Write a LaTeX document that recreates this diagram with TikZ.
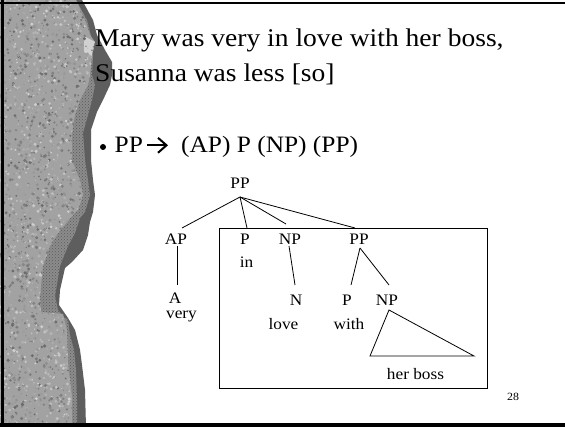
\documentclass[tikz,border=0pt]{standalone}
\usepackage{fontspec}
\setmainfont[FakeStretch=1.08]{Liberation Serif}
\usetikzlibrary{patterns}
\definecolor{stonebase}{HTML}{A2A2A2}
\definecolor{shadowgray}{HTML}{5E5E5E}
\definecolor{dithergray}{HTML}{8C8C8C}
\tikzset{
  treelabel/.style={font=\fontsize{16}{18}\selectfont, anchor=base, inner sep=0pt},
  edge/.style={line width=0.8pt},
  titletext/.style={font=\fontsize{25.5}{30}\selectfont, anchor=base west, inner sep=0pt},
  bullettext/.style={font=\fontsize{23.5}{28}\selectfont, anchor=base west, inner sep=0pt},
}
\begin{document}
\begin{tikzpicture}[x=1pt,y=-1pt]
\useasboundingbox (0,0) rectangle (565,427);
\fill[white] (0,0) rectangle (565,427);
% ---- stone: shadow layer
\fill[shadowgray] (0,0) -- (82,0) -- (93,20) -- (97,35) -- (105,50) -- (112,62) -- (112,75) -- (110,85)
  -- (103,100) -- (97,112) -- (91,130) -- (91,160) -- (93,180) -- (95,195) -- (93,212) -- (90,222)
  -- (88,235) -- (83,250) -- (72,262) -- (65,268) -- (60,290) -- (59,305) -- (68,318) -- (75,330)
  -- (80,350) -- (82,365) -- (85,390) -- (86,427) -- (0,427) -- cycle;
% ---- stone: dithered rim
\fill[dithergray] (0,0) -- (76,0) -- (87,20) -- (92,40) -- (93,55) -- (92,75) -- (95,85) -- (92,100)
  -- (88,115) -- (83,133) -- (85,160) -- (88,180) -- (90,195) -- (85,212) -- (80,218) -- (75,233)
  -- (68,246) -- (60,266) -- (55,296) -- (58,310) -- (63,316) -- (68,320) -- (70,335) -- (74,350)
  -- (76,370) -- (77,400) -- (77,427) -- (0,427) -- cycle;
\fill[pattern=crosshatch dots, pattern color=black!65] (0,0) -- (76,0) -- (87,20) -- (92,40) -- (93,55) -- (92,75) -- (95,85) -- (92,100)
  -- (88,115) -- (83,133) -- (85,160) -- (88,180) -- (90,195) -- (85,212) -- (80,218) -- (75,233)
  -- (68,246) -- (60,266) -- (55,296) -- (58,310) -- (63,316) -- (68,320) -- (70,335) -- (74,350)
  -- (76,370) -- (77,400) -- (77,427) -- (0,427) -- cycle;
% ---- stone: light textured body
\begin{scope}
\clip (0,0) -- (76,0) -- (85,20) -- (90,35) -- (95,42) -- (92,55) -- (90,75) -- (88,85) -- (80,100)
  -- (75,115) -- (72,133) -- (72,160) -- (77,173) -- (80,180) -- (83,195) -- (78,210) -- (72,216)
  -- (58,233) -- (50,246) -- (43,266) -- (40,296) -- (41,312) -- (63,314) -- (67,330) -- (68,363)
  -- (72,396) -- (72,427) -- (0,427) -- cycle;
\fill[stonebase] (0,0) rectangle (120,427);
\fill[black!18] (84,36) -- (95,42) -- (92,56) -- (84,52) -- cycle;
\pgfmathsetseed{7}
\foreach \i in {1,...,2600}{
  \pgfmathsetmacro{\xx}{rnd*100}
  \pgfmathsetmacro{\yy}{rnd*427}
  \pgfmathsetmacro{\gg}{int(rnd*42)+18}
  \pgfmathsetmacro{\rr}{0.6+rnd*1.2}
  \fill[black!\gg] (\xx,\yy) circle (\rr pt);
}
\end{scope}
% ---- frame
\draw[line width=2.5pt] (0,3) -- (565,3);
\draw[line width=2.5pt] (2.5,0) -- (2.5,427);
\draw[line width=4pt] (0,425) -- (565,425);
% ---- title
\node[titletext] (title1) at (95,46.7) {Mary was very in love with her boss,};
\node[titletext] (title2) at (95,81.2) {Susanna was less [so]};
% ---- rule line
\fill (103,147) circle (3pt);
\node[bullettext] (lhs) at (114.5,153) {PP};
\node[bullettext] (rhs) at (181,153) {(AP) P (NP) (PP)};
\coordinate (arS) at (147,145.3);
\coordinate (arE) at (166.5,145.3);
\draw[line width=2pt] (arS) -- (arE);
\draw[line width=2pt, line join=miter] (158,137.8) -- (arE) -- (158,152.8);
% ---- page number
\node[font=\fontsize{11}{13}\selectfont, anchor=base, inner sep=0pt] (pagenum) at (513,401) {28};
% ---- box
\node[draw, line width=0.8pt, minimum width=268pt, minimum height=160pt, inner sep=0pt, anchor=north west] (box) at (219,228) {};
% ---- tree labels
\node[treelabel] (root) at (240,188.5) {PP};
\node[treelabel] (ap) at (176,244.5) {AP};
\node[treelabel] (p1) at (245,244.5) {P};
\node[treelabel] (np1) at (290,244.5) {NP};
\node[treelabel] (pp2) at (359,244.5) {PP};
\node[treelabel] (in) at (246.5,268) {in};
\node[treelabel] (a) at (175,303.5) {A};
\node[treelabel] (very) at (181.5,318.5) {very};
\node[treelabel] (n) at (296,306) {N};
\node[treelabel] (love) at (283.5,330) {love};
\node[treelabel] (p2) at (347,306) {P};
\node[treelabel] (with) at (349,329.5) {with};
\node[treelabel] (np2) at (387,306) {NP};
\node[treelabel] (herboss) at (415.5,380) {her boss};
% ---- attachment points
\coordinate (rootB) at (240,197);
\coordinate (apT) at (182,228);
\coordinate (apB) at (177,246);
\coordinate (aT) at (177,285);
\coordinate (p1T) at (247,228);
\coordinate (np1T) at (286,224);
\coordinate (np1B) at (289,246);
\coordinate (nT) at (295,285);
\coordinate (pp2T) at (355,228);
\coordinate (pp2B) at (360,248);
\coordinate (p2T) at (351,285);
\coordinate (np2T) at (389,285);
\coordinate (np2B) at (389,310);
\coordinate (triL) at (370,356);
\coordinate (triR) at (474,356);
% ---- edges
\draw[edge] (rootB) -- (apT);
\draw[edge] (rootB) -- (p1T);
\draw[edge] (rootB) -- (np1T);
\draw[edge] (rootB) -- (pp2T);
\draw[edge] (apB) -- (aT);
\draw[edge] (np1B) -- (nT);
\draw[edge] (pp2B) -- (p2T);
\draw[edge] (pp2B) -- (np2T);
\draw[edge] (np2B) -- (triL) -- (triR) -- cycle;
\end{tikzpicture}
\end{document}
